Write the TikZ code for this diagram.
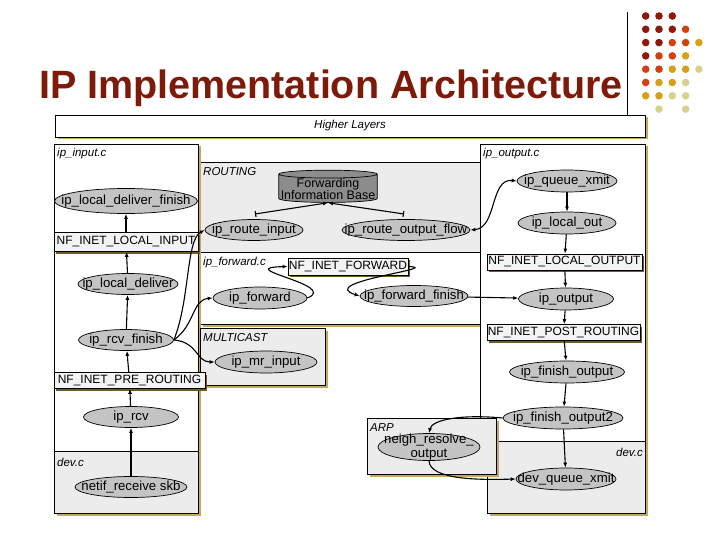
\documentclass[tikz,border=0pt]{standalone}
\usepackage{fontspec}
\setmainfont{Liberation Sans}
\usepackage{tikz}
\usetikzlibrary{arrows.meta,shapes.geometric}

\newcommand{\proctext}[1]{\makebox[0pt]{#1}}

\begin{document}
\begin{tikzpicture}[x=1pt, y=-1pt,
  region/.style={draw, line width=0.8pt,
    preaction={fill=shadowgold, transform canvas={xshift=2.5pt, yshift=-2.5pt}}},
  whitebox/.style={region, fill=white},
  graybox/.style={region, fill=regiongray},
  tag/.style={anchor=west, inner sep=0pt, font=\itshape\fontsize{11.5}{12}\selectfont},
  proc/.style={ellipse, draw, line width=0.7pt, fill=procgray, inner sep=0pt,
    minimum height=21pt, font=\fontsize{13.2}{14}\selectfont},
  hook/.style={rectangle, draw, line width=0.7pt, fill=hookfill, inner sep=0pt,
    minimum height=16pt, font=\fontsize{12}{13}\selectfont,
    preaction={fill=shadowdark, transform canvas={xshift=2pt, yshift=-2pt}}},
  flow/.style={-{Latex[length=5pt,width=4pt]}, line width=1.1pt}]
% Packet path through the IP layer: receive on the left, routing and
% forwarding in the middle, transmit on the right. Coordinates are
% pixels of a 720x540 slide, y pointing down.
\definecolor{titlered}{RGB}{125, 26, 10}
\definecolor{dotdark}{RGB}{139, 26, 10}
\definecolor{dotorange}{RGB}{209, 64, 16}
\definecolor{dotgold}{RGB}{214, 160, 28}
\definecolor{dotkhaki}{RGB}{214, 210, 140}
\definecolor{regiongray}{RGB}{236, 236, 236}
\definecolor{procgray}{RGB}{196, 196, 196}
\definecolor{hookfill}{RGB}{243, 243, 243}
\definecolor{fibgray}{RGB}{140, 140, 140}
\definecolor{shadowgold}{RGB}{196, 170, 86}
\definecolor{shadowdark}{RGB}{110, 92, 40}
\useasboundingbox (0,0) rectangle (720,540);

% slide decoration
\node[anchor=base, inner sep=0pt, text=titlered, font=\bfseries\fontsize{39.5}{41}\selectfont]
  (title) at (331,98.5) {IP Implementation Architecture};
\draw[line width=0.8pt] (627.5,12) -- (627.5,115);
\foreach \r/\cols in {0/{0,1,2}, 1/{0,1,2,3}, 2/{0,1,2,3,4}, 3/{0,1,2,3},
                      4/{0,1,2,3,4}, 5/{0,1,2,3}, 6/{0,1,2,3}, 7/{1,3}} {
  \foreach \c in \cols {
    \pgfmathtruncatemacro\s{\c+\r}
    \ifnum\s<4 \def\dotcol{dotdark}\else
      \ifnum\s<6 \def\dotcol{dotorange}\else
        \ifnum\s<8 \def\dotcol{dotgold}\else \def\dotcol{dotkhaki}\fi\fi\fi
    \fill[\dotcol] (645.7+13.3*\c, 16+13.3*\r) circle (3.8);
  }
}

% source files and subsystems
\draw[whitebox] (55,115) rectangle (645,137);
\node[inner sep=0pt, font=\itshape\fontsize{11.5}{12}\selectfont] (higher) at (350,126) {Higher Layers};
\draw[graybox] (200,162) rectangle (480,252);
\draw[whitebox] (200,252) rectangle (480,324);
\draw[whitebox] (54,144) rectangle (198,451);
\draw[graybox] (54,451) rectangle (198,513);
\draw[whitebox] (480,144) rectangle (645,441);
\draw[graybox] (487,441) rectangle (645,513);
\draw[graybox] (200,328) rectangle (325,385);
\draw[graybox] (367,418) rectangle (496,474);
\node[tag] (tinput) at (57,154) {ip\_input.c};
\node[tag] (tdevin) at (57,462) {dev.c};
\node[tag] (trouting) at (203,172) {ROUTING};
\node[tag] (tforward) at (203,263) {ip\_forward.c};
\node[tag] (tmulti) at (203,338) {MULTICAST};
\node[tag] (toutput) at (483,154) {ip\_output.c};
\node[tag, anchor=east] (tdevout) at (643,452) {dev.c};
\node[tag] (tarp) at (370,428) {ARP};

% netfilter hooks
\node[hook, minimum width=144pt, minimum height=19pt] (nflin) at (126,242) {NF\_INET\_LOCAL\_INPUT};
\node[hook, minimum width=151pt] (nfpre) at (129.5,380.5) {NF\_INET\_PRE\_ROUTING};
\node[hook, minimum width=120pt, minimum height=17pt] (nffwd) at (348,266.5) {NF\_INET\_FORWARD};
\node[hook, minimum width=155pt] (nflout) at (564.5,262) {NF\_INET\_LOCAL\_OUTPUT};
\node[hook, minimum width=153pt] (nfpost) at (563.5,332.5) {NF\_INET\_POST\_ROUTING};

% routing table
\node[cylinder, shape border rotate=90, aspect=0.08, draw, line width=0.7pt, fill=fibgray,
  inner xsep=2pt, inner ysep=0pt, align=center, font=\fontsize{12.5}{12}\selectfont]
  (fib) at (328,189) {Forwarding\\Information Base};

% functions
\node[proc, minimum width=143pt, minimum height=25pt] (ldf) at (126,201) {\proctext{ip\_local\_deliver\_finish}};
\node[proc, minimum width=100pt] (ld) at (128,284) {\proctext{ip\_local\_deliver}};
\node[proc, minimum width=95pt] (rcvf) at (126,340) {\proctext{ip\_rcv\_finish}};
\node[proc, minimum width=95pt] (rcv) at (131,417) {\proctext{ip\_rcv}};
\node[proc, minimum width=112pt] (netif) at (131,487) {\proctext{netif\_receive skb}};
\node[proc, minimum width=98pt] (rin) at (254,230) {\proctext{ip\_route\_input}};
\node[proc, minimum width=128pt] (rout) at (406,230) {\proctext{ip\_route\_output\_flow}};
\node[proc, minimum width=94pt, minimum height=22pt] (fwd) at (260,298) {\proctext{ip\_forward}};
\node[proc, minimum width=108pt] (fwdf) at (414,296) {\proctext{ip\_forward\_finish}};
\node[proc, minimum width=102pt, minimum height=22pt] (mr) at (266,362) {\proctext{ip\_mr\_input}};
\node[proc, minimum width=100pt, minimum height=22pt] (qx) at (567,181) {\proctext{ip\_queue\_xmit}};
\node[proc, minimum width=98pt, minimum height=22pt] (lo) at (567,223) {\proctext{ip\_local\_out}};
\node[proc, minimum width=95pt, minimum height=22pt] (out) at (566,299) {\proctext{ip\_output}};
\node[proc, minimum width=115pt, minimum height=22pt] (fo) at (567,372) {\proctext{ip\_finish\_output}};
\node[proc, minimum width=120pt, minimum height=22pt] (fo2) at (563,418) {\proctext{ip\_finish\_output2}};
\node[proc, minimum width=100pt, minimum height=22pt] (dqx) at (566,479) {\proctext{dev\_queue\_xmit}};
\node[proc, minimum width=102pt, minimum height=27pt, inner ysep=-6pt] (neigh) at (429,447)
  {\proctext{\shortstack{neigh\_resolve\_\\output}}};

% receive path
\draw[flow] (netif) -- (rcv);
\draw[flow] (rcv) -- (nfpre);
\draw[flow] (nfpre) -- (rcvf);
\draw[flow] (rcvf) -- (ld);
\draw[flow] (ld) -- (nflin);
\draw[flow] (nflin) -- (ldf);
\draw[flow] (rcvf.east) .. controls (190,300) and (186,240) .. (rin.west);
\draw[flow] (rcvf.east) .. controls (195,325) and (192,300) .. (fwd.west);
\draw[flow] (rcvf.east) .. controls (198,342) and (196,362) .. (mr.west);

% route lookups
\coordinate (rinbar) at (255,214);
\coordinate (routbar) at (404,214);
\draw[{Bar[width=6pt]}-{Latex[length=5pt,width=4pt]}, line width=1.1pt] (rinbar) -- (fib.south);
\draw[{Bar[width=6pt]}-{Latex[length=5pt,width=4pt]}, line width=1.1pt] (routbar) -- (fib.south);

% forwarding
\draw[flow] (fwd.east) .. controls (340,285) and (230,268) .. (nffwd.west);
\draw[flow] (nffwd.east) .. controls (445,268) and (315,282) .. (fwdf.west);
\draw[flow] (fwdf) -- (out);

% transmit path
\draw[{Latex[length=5pt,width=4pt]}-{Latex[length=5pt,width=4pt]}, line width=1.1pt]
  (qx.west) .. controls (490,178) and (497,228) .. (rout.east);
\draw[flow] (qx) -- (lo);
\draw[flow] (lo) -- (nflout);
\draw[flow] (nflout) -- (out);
\draw[flow] (out) -- (nfpost);
\draw[flow] (nfpost) -- (fo);
\draw[flow] (fo) -- (fo2);
\draw[flow] (fo2) -- (dqx);
\draw[flow] (fo2.west) .. controls (460,414) and (432,420) .. (neigh.north);
\draw[flow] (neigh.south) .. controls (430,480) and (480,480) .. (dqx.west);
\end{tikzpicture}
\end{document}
